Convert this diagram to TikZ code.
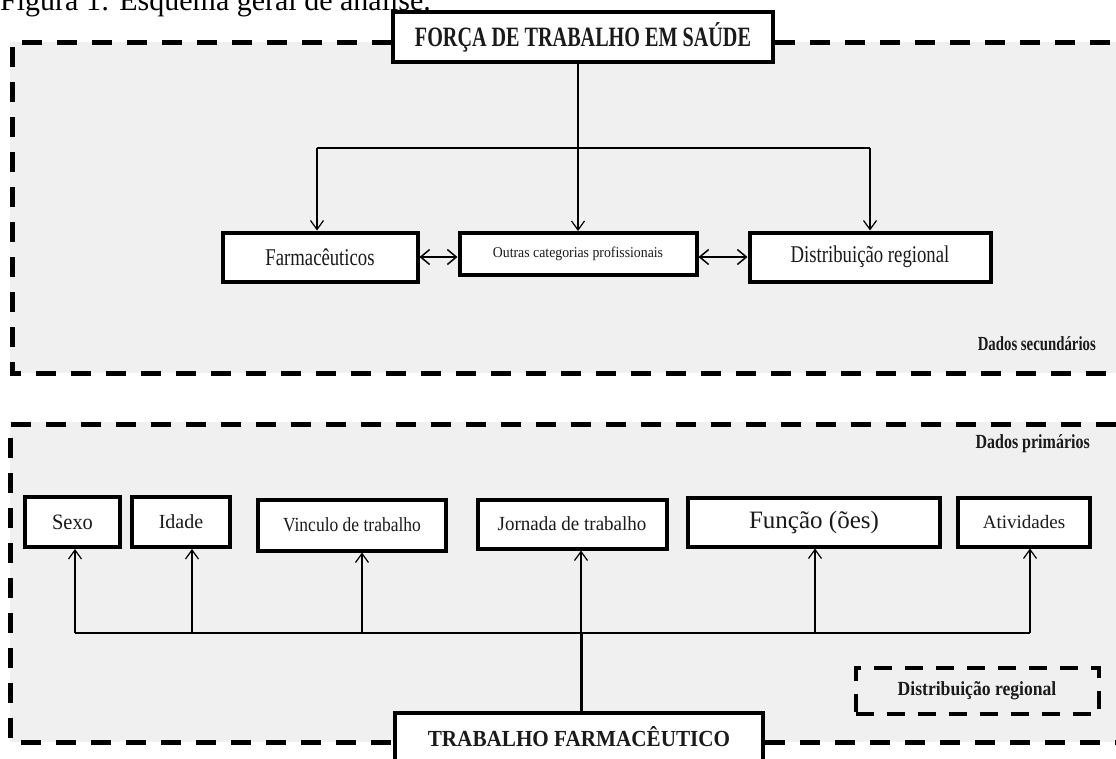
\documentclass[tikz,border=0pt]{standalone}
\usepackage{fontspec}
\setmainfont{Liberation Serif}
\usetikzlibrary{arrows.meta}
\newcommand\tx[3]{{\fontsize{#1}{#1}\selectfont\addfontfeatures{FakeStretch=#2}#3}}
\newcommand\tb[3]{{\bfseries\fontsize{#1}{#1}\selectfont\addfontfeatures{FakeStretch=#2}#3}}
\definecolor{panel}{HTML}{F0F0F0}
\definecolor{ink}{HTML}{1A1A1A}
\begin{document}
\begin{tikzpicture}[x=1pt,y=-1pt,
  box/.style={draw=black,fill=white,line width=4pt,inner sep=0pt,text=ink},
  frame/.style={line width=5pt,dash pattern=on 20pt off 15pt},
  smallframe/.style={line width=4pt,dash pattern=on 18pt off 13pt},
  con/.style={line width=1.2pt},
  arr/.style={line width=1.2pt,-{Straight Barb[length=9pt,width=13pt,line width=1.2pt]}},
  darr/.style={line width=1.5pt,{Straight Barb[length=9pt,width=15pt,line width=1.5pt]}-{Straight Barb[length=9pt,width=15pt,line width=1.5pt]}},
  lab/.style={inner sep=0pt,text=ink}]
\path[clip] (0,0) rectangle (1116,758);
\fill[white] (0,0) rectangle (1116,758);
% panels
\fill[panel] (10,42) rectangle (1116,373);
\fill[panel] (10,422) rectangle (1116,742);
% caption
\node[lab,anchor=base west,text=black] (cap) at (0,10) {\tx{30}{1}{Figura 1: Esquema geral de análise.}};
% top frame
\draw[frame] (392,42) -- (12,42) -- (12,373) -- (1116,373);
\draw[frame] (775,42) -- (1116,42);
% lower frame
\draw[frame] (1116,424) -- (10,424) -- (10,742) -- (396,742);
\draw[frame] (765,742) -- (1116,742);
% top tree
\node[box,minimum width=380pt,minimum height=50pt] (title) at (583,37) {\tb{28}{0.72}{FORÇA DE TRABALHO EM SAÚDE}};
\node[box,minimum width=195pt,minimum height=49pt] (farm) at (320,257) {\tx{24}{0.78}{Farmacêuticos}};
\node[box,minimum width=237pt,minimum height=42pt] (outr) at (578,254) {\tx{15}{0.92}{Outras categorias profissionais}};
\node[box,minimum width=241pt,minimum height=49pt] (dist) at (870,257) {\tx{24}{0.78}{Distribuição regional}};
\coordinate (hl) at (317,148);
\coordinate (hr) at (870,148);
\coordinate (hc) at (578,148);
\draw[arr] (title.south -| hc) -- (outr.north -| hc);
\draw[con] (hl) -- (hr);
\draw[arr] (hl) -- (farm.north -| hl);
\draw[arr] (hr) -- (dist.north -| hr);
\draw[darr] (farm.east) -- (outr.west |- farm.east);
\draw[darr] (outr.east |- dist.west) -- (dist.west);
\node[lab,anchor=base east] (sec) at (1096,350) {\tb{20}{0.74}{Dados secundários}};
% lower tree
\node[lab,anchor=base east] (pri) at (1090,448) {\tb{20}{0.8}{Dados primários}};
\node[box,minimum width=95pt,minimum height=50pt] (sexo) at (72.5,522) {\tx{22}{0.93}{Sexo}};
\node[box,minimum width=98pt,minimum height=50pt] (idade) at (181,522) {\tx{20}{1}{Idade}};
\node[box,minimum width=188pt,minimum height=51pt] (vinc) at (352,525) {\tx{20}{0.875}{Vinculo de trabalho}};
\node[box,minimum width=189pt,minimum height=49pt] (jorn) at (572,524) {\tx{20}{0.95}{Jornada de trabalho}};
\node[box,minimum width=252pt,minimum height=49pt] (func) at (814,522) {\tx{25}{1}{Função (ões)}};
\node[box,minimum width=132pt,minimum height=49pt] (ativ) at (1024,522) {\tx{19}{1}{Atividades}};
\node[box,minimum width=368pt,minimum height=48pt] (trab) at (579,737) {\tb{23}{0.92}{TRABALHO FARMACÊUTICO}};
\node[draw=black,smallframe,minimum width=243pt,minimum height=46pt,inner sep=0pt,text=ink] (dreg) at (977,691) {\tb{20}{0.88}{Distribuição regional}};
\coordinate (b1) at (75,633);
\coordinate (b2) at (192,633);
\coordinate (b3) at (362,633);
\coordinate (b4) at (581,633);
\coordinate (b5) at (815,633);
\coordinate (b6) at (1030,633);
\draw[con] (b1) -- (b3);
\draw[line width=2pt] (b3) -- (b4);
\draw[con] (b4) -- (b6);
\draw[line width=3pt] (trab.north -| b4) -- (b4);
\draw[arr] (b1) -- (sexo.south -| b1);
\draw[arr] (b2) -- (idade.south -| b2);
\draw[arr] (b3) -- (vinc.south -| b3);
\draw[arr] (b4) -- (jorn.south -| b4);
\draw[arr] (b5) -- (func.south -| b5);
\draw[arr] (b6) -- (ativ.south -| b6);
\end{tikzpicture}
\end{document}
